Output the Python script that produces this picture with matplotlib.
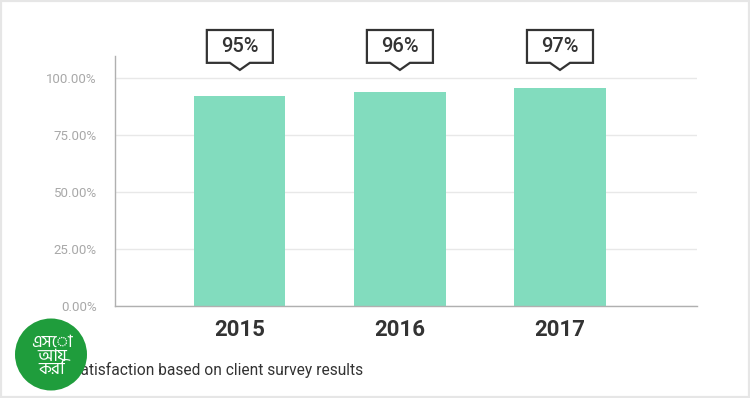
import numpy as np
import matplotlib
matplotlib.use('Agg')
import matplotlib.pyplot as plt
from matplotlib.patches import Polygon, Ellipse, Rectangle

plt.rcParams['font.family'] = ['Roboto', 'DejaVu Sans']

# data
years  = ['2015', '2016', '2017']
values = [92.2, 93.9, 95.6]
labels = ['95%', '96%', '97%']
yticks = [0, 25, 50, 75, 100]
caption = 'Client satisfaction based on client survey results'
logo_text = 'এসো\nআয়\nকরি'

fig = plt.figure(figsize=(7.5, 3.98), dpi=100)
ax = fig.add_axes([115/750, 1-306/398, 582/750, 250/398])

x = np.arange(len(years))
ax.bar(x, values, width=0.57, color='#82dcbe', zorder=2)

ax.set_xlim(-0.78, 2.856)
ax.set_ylim(0, 109.6)
ax.set_yticks(yticks)
ax.set_yticklabels(['%.2f%%' % t for t in yticks], color='#a8a8a8', fontsize=9.5)
ax.set_xticks(x)
ax.set_xticklabels(years, fontsize=16, fontweight='bold', color='#333333')
ax.tick_params(axis='y', length=0, pad=13)
ax.tick_params(axis='x', length=0, pad=9)
ax.yaxis.grid(True, color='#e8e8e8', lw=1, zorder=0)
ax.set_axisbelow(True)
for s in ['top', 'right']:
    ax.spines[s].set_visible(False)
for s in ['left', 'bottom']:
    ax.spines[s].set_color('#b0b0b0')
    ax.spines[s].set_linewidth(1)

# callouts
w, pw = 0.4125, 0.0625
ytip, ybot, ytop = 103.5, 106.6, 121.0
for xi, lab in zip(x, labels):
    pts = [(xi - w/2, ybot), (xi - pw, ybot), (xi, ytip), (xi + pw, ybot),
           (xi + w/2, ybot), (xi + w/2, ytop), (xi - w/2, ytop)]
    ax.add_patch(Polygon(pts, closed=True, fc='white', ec='#333333', lw=1.6,
                         clip_on=False, zorder=5))
    ax.text(xi, (ybot + ytop)/2, lab, ha='center', va='center', fontsize=14.5,
            fontweight='medium', color='#333333', clip_on=False, zorder=6)

# caption
fig.text(363/750, 1-370/398, caption, ha='right', va='center',
         fontsize=11.2, color='#333333')

# logo
fig.patches.append(Ellipse((51/750, 1-354.5/398), 72/750, 72/398,
                           transform=fig.transFigure, fc='#1f9d3c', ec='none',
                           zorder=10))
fig.text(52/750, 1-356/398, logo_text, ha='center', va='center', fontsize=12.5,
         color='white', linespacing=0.85, zorder=11,
         family=['Hind Siliguri', 'DejaVu Sans'])

# border
fig.patches.append(Rectangle((0, 0), 1, 1, transform=fig.transFigure,
                             fill=False, ec='#e6e6e6', lw=3, zorder=12))

fig.savefig('out.png', dpi=100)
